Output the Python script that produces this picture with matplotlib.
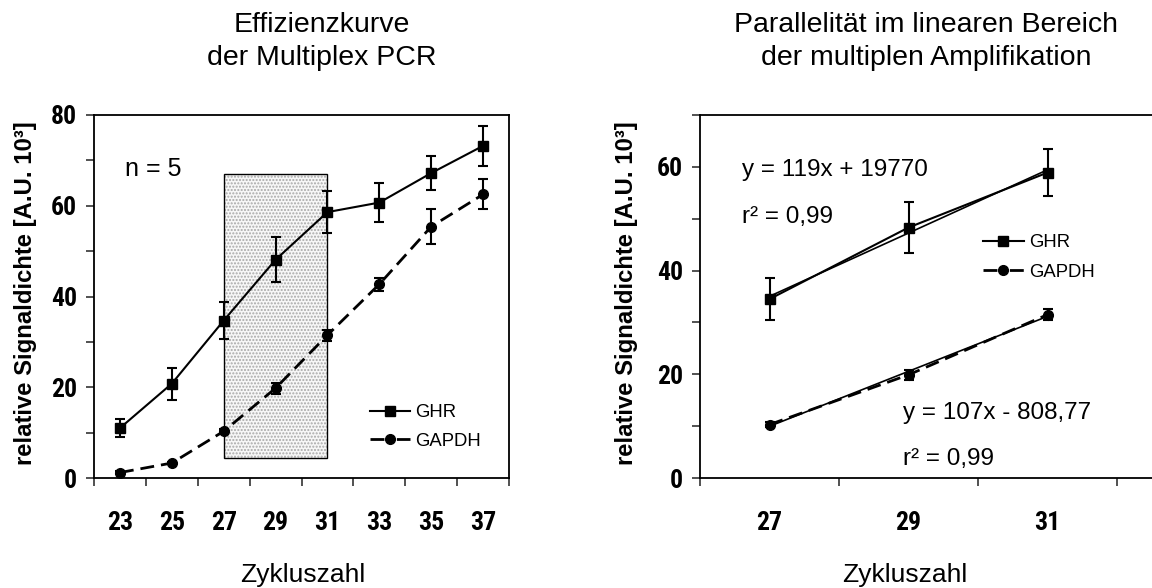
import numpy as np
import matplotlib
matplotlib.use("Agg")
import matplotlib.pyplot as plt
from matplotlib.patches import Rectangle
from matplotlib.lines import Line2D

# ---------------- data ----------------
cycles_left = ["23", "25", "27", "29", "31", "33", "35", "37"]
ghr_left = [11.0, 20.8, 34.7, 48.1, 58.6, 60.7, 67.2, 73.2]
ghr_left_err = [2.0, 3.5, 4.0, 5.0, 4.6, 4.3, 3.8, 4.4]
gapdh_left = [1.2, 3.3, 10.3, 19.8, 31.5, 42.7, 55.4, 62.5]
gapdh_left_err = [0.3, 0.3, 0.6, 1.2, 1.2, 1.4, 3.8, 3.3]

cycles_right = ["27", "29", "31"]
ghr_right = [34.5, 48.3, 58.9]
ghr_right_err = [4.0, 5.0, 4.6]
gapdh_right = [10.3, 19.9, 31.5]
gapdh_right_err = [0.5, 1.0, 1.0]

shade_x = ["27", "31"]       # linear range (category labels)
shade_y = [4.3, 67.0]

title_left = ["Effizienzkurve", "der Multiplex PCR"]
title_right = ["Parallelität im linearen Bereich", "der multiplen Amplifikation"]
xlabel = "Zykluszahl"
ylabel = "relative Signaldichte [A.U. 10³]"
eq_ghr = ["y = 119x + 19770", "r² = 0,99"]
eq_gapdh = ["y = 107x - 808,77", "r² = 0,99"]

# ---------------- style ----------------
W, H = 1152, 588
REG = ["Liberation Sans", "DejaVu Sans"]
NARROW = ["Liberation Sans Narrow", "Roboto Condensed", "Liberation Sans", "DejaVu Sans"]
plt.rcParams["font.family"] = REG

fig = plt.figure(figsize=(W / 100, H / 100), dpi=100)


def F(x, y):
    return x / W, 1 - y / H


ax1 = fig.add_axes([94 / W, 1 - 478 / H, 415 / W, 363 / H])
ax2 = fig.add_axes([700 / W, 1 - 478 / H, 452 / W, 363 / H])

LW = 1.5
ghr_style = dict(color="black", lw=LW, marker="s", ms=6.8, ls="-")
gap_style = dict(color="black", lw=2.0, marker="o", ms=7, ls=(0, (5, 2.5)))
err_kw = dict(ecolor="black", elinewidth=1.5, capsize=3.3, capthick=1.5)


def style_ticklabels(labels):
    for lab in labels:
        lab.set_family(NARROW)
        lab.set_stretch("condensed")
        lab.set_fontweight("bold")
        lab.set_fontsize(18.5)


def setup(ax, cats, ymax, xmax):
    n = len(cats)
    ax.set_xlim(-0.5, xmax)
    ax.set_ylim(0, ymax)
    ax.set_xticks(np.arange(n + 1) - 0.5)
    ax.set_xticklabels([])
    ax.set_xticks(np.arange(n), minor=True)
    ax.set_xticklabels(cats, minor=True)
    ax.tick_params(axis="x", which="major", direction="out", length=6, width=1.2, color="#333333")
    ax.tick_params(axis="x", which="minor", length=0, pad=24)
    ax.set_yticks(np.arange(0, ymax + 1, 10))
    ax.set_yticklabels([str(v) if v % 20 == 0 else "" for v in range(0, ymax + 1, 10)])
    ax.tick_params(axis="y", direction="out", length=6, width=1.2, pad=6, color="#333333")
    style_ticklabels(ax.get_yticklabels() + ax.get_xticklabels(minor=True))
    for s in ax.spines.values():
        s.set_linewidth(1.3)


# ---------------- left panel ----------------
xl = np.arange(len(cycles_left))
setup(ax1, cycles_left, 80, len(cycles_left) - 0.5)

sx0 = cycles_left.index(shade_x[0])
sx1 = cycles_left.index(shade_x[1])
ax1.add_patch(Rectangle((sx0, shade_y[0]), sx1 - sx0, shade_y[1] - shade_y[0],
                        facecolor="#f7f7f7", edgecolor="#a8a8a8", hatch=".....",
                        lw=0, zorder=1))
ax1.add_patch(Rectangle((sx0, shade_y[0]), sx1 - sx0, shade_y[1] - shade_y[0],
                        fill=False, edgecolor="black", lw=1.0, zorder=1.5))

ax1.errorbar(xl, ghr_left, yerr=ghr_left_err, **ghr_style, **err_kw, zorder=3)
ax1.errorbar(xl, gapdh_left, yerr=gapdh_left_err, **gap_style, **err_kw, zorder=3)

h1 = Line2D([], [], **ghr_style)
h2 = Line2D([], [], **dict(gap_style, ls=(0, (5, 4.5))))
ax1.legend([h1, h2], ["GHR", "GAPDH"], loc="center left",
           bbox_to_anchor=((370 - 94) / 415, (478 - 427) / 363),
           frameon=False, fontsize=13.3, handlelength=2.15, handletextpad=0.3,
           labelspacing=0.6, borderpad=0, borderaxespad=0)

fig.text(*F(125, 176), "n = 5", fontsize=18, ha="left", va="baseline")

# ---------------- right panel ----------------
xr = np.arange(len(cycles_right))
setup(ax2, cycles_right, 70, len(cycles_right) - 0.5 + 35 / 139)
ax2.spines["right"].set_visible(False)

# linear trendlines (fitted to the plotted points)
for vals in (ghr_right, gapdh_right):
    k, d = np.polyfit(xr, vals, 1)
    ax2.plot(xr, k * xr + d, color="black", lw=1.2, zorder=2)

ax2.errorbar(xr, ghr_right, yerr=ghr_right_err, **ghr_style, **err_kw, zorder=3)
ax2.errorbar(xr, gapdh_right, yerr=gapdh_right_err, **gap_style, **err_kw, zorder=3)

ax2.legend([h1, h2], ["GHR", "GAPDH"], loc="center left",
           bbox_to_anchor=((983 - 700) / 452, (478 - 257.5) / 363),
           frameon=False, fontsize=13.3, handlelength=2.2, handletextpad=0.3,
           labelspacing=0.65, borderpad=0, borderaxespad=0)

fig.text(*F(742, 176), eq_ghr[0], fontsize=17.5, ha="left", va="baseline")
fig.text(*F(742, 223), eq_ghr[1], fontsize=17.5, ha="left", va="baseline")
fig.text(*F(903, 419), eq_gapdh[0], fontsize=17.5, ha="left", va="baseline")
fig.text(*F(903, 465), eq_gapdh[1], fontsize=17.5, ha="left", va="baseline")

# ---------------- titles & labels ----------------
for cx, lines in ((322, title_left), (926, title_right)):
    fig.text(*F(cx, 32), lines[0], fontsize=20.5, ha="center", va="baseline")
    fig.text(*F(cx, 65), lines[1], fontsize=20.5, ha="center", va="baseline")

for cx in (303, 905):
    fig.text(*F(cx, 582), xlabel, fontsize=19, ha="center", va="baseline")

for cx in (26, 626):
    fig.text(*F(cx, 293), ylabel, fontsize=17.2, fontweight="bold",
             rotation=90, ha="center", va="center")

fig.savefig("out.png", dpi=100)
